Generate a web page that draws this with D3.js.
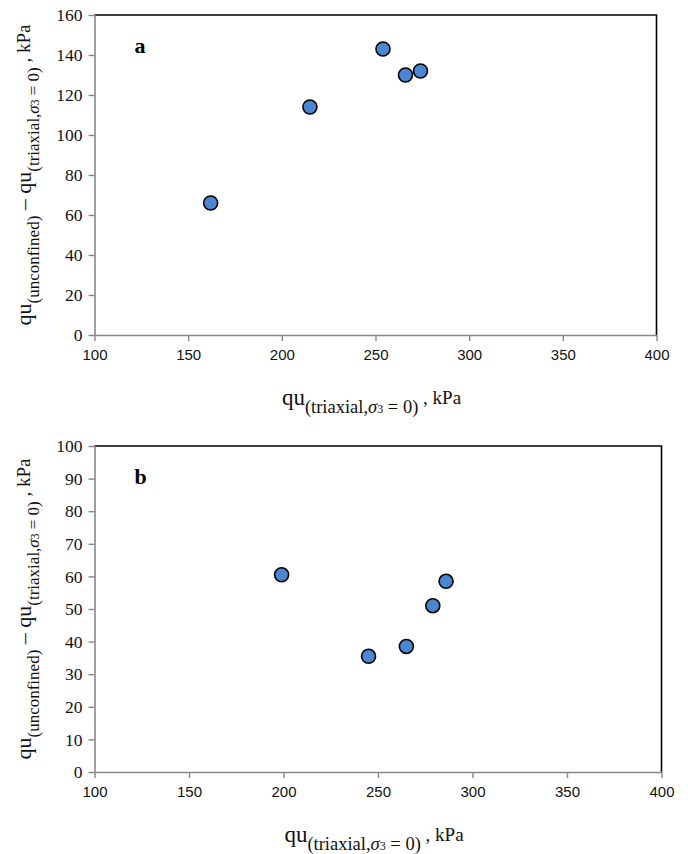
<!DOCTYPE html>
<html>
<head>
<meta charset="utf-8">
<script src="https://cdn.jsdelivr.net/npm/d3@7"></script>
<style>
  html, body { margin: 0; padding: 0; background: #fff; }
  svg { display: block; }
</style>
</head>
<body>
<svg id="chart" width="688" height="854"></svg>
<script>
// Panel labels
const panelLabels = ["a", "b"];

// Panel a: qu (triaxial, σ3 = 0) vs. qu(unconfined) − qu(triaxial, σ3 = 0), kPa
const quTriaxialA = [162, 215, 254, 266, 274];
const quDiffA     = [66, 114, 143, 130, 132];

// Panel b
const quTriaxialB = [199, 245, 265, 279, 286];
const quDiffB     = [60.5, 35.5, 38.5, 51, 58.5];

// Axis ticks
const xTicks  = [100, 150, 200, 250, 300, 350, 400];
const yTicksA = [0, 20, 40, 60, 80, 100, 120, 140, 160];
const yTicksB = [0, 10, 20, 30, 40, 50, 60, 70, 80, 90, 100];

const svg = d3.select("#chart");
const serif = "'Liberation Serif', 'DejaVu Serif', serif";
const sans = "'Liberation Sans', Arial, sans-serif";
const axisGray = "#878787";

function drawPanel(opt) {
  const { left, right, top, bottom, xs, ys, yTicks, label } = opt;
  const x = d3.scaleLinear().domain([xTicks[0], xTicks[xTicks.length - 1]]).range([left, right]);
  const y = d3.scaleLinear().domain([yTicks[0], yTicks[yTicks.length - 1]]).range([bottom, top]);

  const g = svg.append("g");

  // top and right frame lines
  g.append("path")
    .attr("d", `M${left},${top}H${right}V${bottom}`)
    .attr("fill", "none").attr("stroke", "#000").attr("stroke-width", 1.6);

  // x axis
  const xAxis = g.append("g")
    .attr("transform", `translate(0,${bottom})`)
    .call(d3.axisBottom(x).tickValues(xTicks).tickSize(6).tickSizeOuter(0).tickPadding(8));
  xAxis.select(".domain").attr("stroke", axisGray).attr("stroke-width", 1.6);
  xAxis.selectAll(".tick line").attr("stroke", axisGray).attr("stroke-width", 1.4);
  xAxis.selectAll(".tick text")
    .attr("font-family", sans).attr("font-size", 15).attr("fill", "#111");

  // y axis
  const yAxis = g.append("g")
    .attr("transform", `translate(${left},0)`)
    .call(d3.axisLeft(y).tickValues(yTicks).tickSize(6).tickSizeOuter(0).tickPadding(6));
  yAxis.select(".domain").attr("stroke", axisGray).attr("stroke-width", 1.6);
  yAxis.selectAll(".tick line").attr("stroke", axisGray).attr("stroke-width", 1.4);
  yAxis.selectAll(".tick text")
    .attr("font-family", serif).attr("font-size", 17.5).attr("fill", "#111");

  // points
  g.append("g").selectAll("circle")
    .data(xs.map((v, i) => [v, ys[i]]))
    .join("circle")
    .attr("cx", d => x(d[0]))
    .attr("cy", d => y(d[1]))
    .attr("r", 7)
    .attr("fill", "#4a86d2")
    .attr("stroke", "#000")
    .attr("stroke-width", 1.6);

  // panel letter
  g.append("text")
    .attr("x", left + 40).attr("y", top + 38)
    .attr("font-family", serif).attr("font-size", 22).attr("font-weight", "bold")
    .text(label);

  // x axis title
  const cx = (left + right) / 2;
  const xt = g.append("text")
    .attr("x", cx - 4).attr("y", bottom + 70)
    .attr("text-anchor", "middle")
    .attr("font-family", serif).attr("fill", "#111");
  xt.append("tspan").attr("font-size", 23).text("qu");
  xt.append("tspan").attr("font-size", 18.5).attr("dy", 8).text("(triaxial,");
  xt.append("tspan").attr("font-size", 18.5).attr("font-style", "italic").text("σ");
  xt.append("tspan").attr("font-size", 12).text("3");
  xt.append("tspan").attr("font-size", 18.5).text(" = 0)");
  xt.append("tspan").attr("font-size", 19).attr("dy", -9).text(" , kPa");

  // y axis title (rotated)
  const cy = (top + bottom) / 2;
  const yt = g.append("text")
    .attr("transform", `translate(${left - 64},${cy}) rotate(-90)`)
    .attr("text-anchor", "middle")
    .attr("font-family", serif).attr("fill", "#111");
  yt.append("tspan").attr("font-size", 22).text("qu");
  yt.append("tspan").attr("font-size", 17).attr("dy", 8).text("(unconfined)");
  yt.append("tspan").attr("font-size", 22).attr("dy", -8).text(" – qu");
  yt.append("tspan").attr("font-size", 17).attr("dy", 8).text("(triaxial,");
  yt.append("tspan").attr("font-size", 17).attr("font-style", "italic").text("σ");
  yt.append("tspan").attr("font-size", 11.5).text("3");
  yt.append("tspan").attr("font-size", 17).text(" = 0)");
  yt.append("tspan").attr("font-size", 19).attr("dy", -9).text(" , kPa");
}

drawPanel({ left: 94.5, right: 656.5, top: 15, bottom: 335,
            xs: quTriaxialA, ys: quDiffA, yTicks: yTicksA, label: panelLabels[0] });
drawPanel({ left: 94.5, right: 661.5, top: 446, bottom: 772,
            xs: quTriaxialB, ys: quDiffB, yTicks: yTicksB, label: panelLabels[1] });
</script>
</body>
</html>
